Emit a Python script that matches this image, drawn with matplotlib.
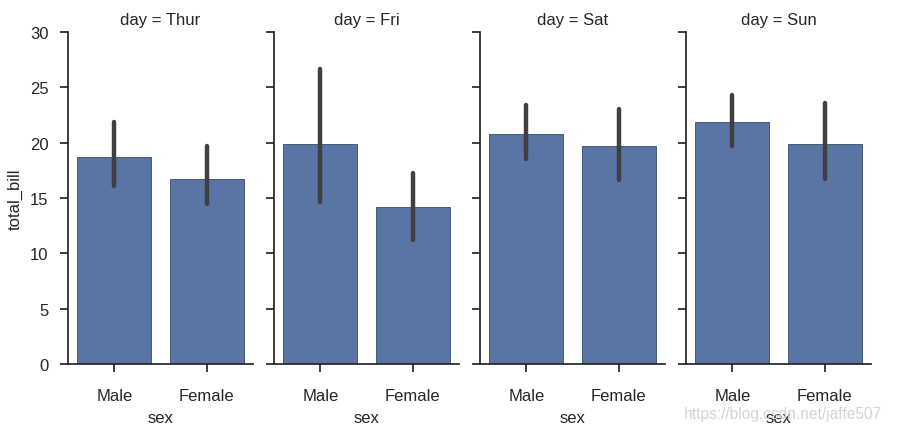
import matplotlib.pyplot as plt
import numpy as np

plt.rcParams['font.family'] = ['Liberation Sans', 'DejaVu Sans']

days = ['Thur', 'Fri', 'Sat', 'Sun']
sexes = ['Male', 'Female']
# mean total_bill per day/sex
means = [[18.71, 16.72], [19.86, 14.15], [20.80, 19.68], [21.89, 19.87]]
# confidence interval low/high
ci_low = [[16.1, 14.5], [14.6, 11.2], [18.5, 16.6], [19.7, 16.7]]
ci_high = [[21.9, 19.7], [26.7, 17.3], [23.4, 23.0], [24.3, 23.6]]

bar_color = '#5975a4'
dark = '#262626'
fs = 12

fig = plt.figure(figsize=(8.98, 4.35), dpi=100)
W, H = 898, 435
lefts = [68, 274, 480, 686]
pw = 185
top, bottom = 33, 365

for i, day in enumerate(days):
    ax = fig.add_axes([lefts[i]/W, 1-bottom/H, pw/W, (bottom-top)/H])
    x = np.arange(len(sexes))
    ax.bar(x, means[i], width=0.8, color=bar_color, edgecolor='#3a4a66', linewidth=0.6)
    for j in range(len(sexes)):
        ax.plot([x[j], x[j]], [ci_low[i][j], ci_high[i][j]], color='#3f3f3f',
                linewidth=3.2, solid_capstyle='round')
    ax.set_xlim(-0.5, 1.5)
    ax.set_ylim(0, 30)
    ax.set_yticks([0, 5, 10, 15, 20, 25, 30])
    ax.set_xticks(x)
    ax.set_xticklabels(sexes)
    ax.spines['top'].set_visible(False)
    ax.spines['right'].set_visible(False)
    for s in ['left', 'bottom']:
        ax.spines[s].set_linewidth(1.25)
        ax.spines[s].set_color(dark)
    ax.tick_params(axis='y', direction='out', length=6, width=1.25, color=dark,
                   labelsize=fs, labelcolor=dark, pad=8)
    ax.tick_params(axis='x', direction='out', length=6, width=1.25, color=dark,
                   labelsize=fs, labelcolor=dark, pad=11)
    if i > 0:
        ax.set_yticklabels([])
    else:
        ax.set_ylabel('total_bill', fontsize=fs, color=dark, labelpad=5)
    ax.set_xlabel('sex', fontsize=fs, color=dark, labelpad=5)
    ax.set_title('day = ' + day, fontsize=fs, color=dark, pad=6)

fig.text(684/W, 1-415/H, 'https://blog.csdn.net/jaffe507', fontsize=11.2,
         color='#d4d4d4', va='center', ha='left')

fig.savefig('out.png', dpi=100)
